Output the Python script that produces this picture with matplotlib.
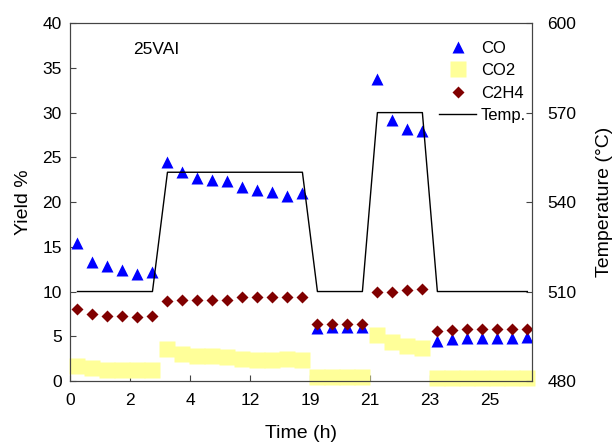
import matplotlib
matplotlib.use('Agg')
import matplotlib.pyplot as plt
from matplotlib.lines import Line2D

plt.rcParams['font.family'] = ['Liberation Sans', 'DejaVu Sans']

# sample positions on the (relabelled) time axis
x = [0.25, 0.75, 1.25, 1.75, 2.25, 2.75,
     3.25, 3.75, 4.25, 4.75, 5.25, 5.75, 6.25, 6.75, 7.25, 7.75,
     8.25, 8.75, 9.25, 9.75,
     10.25, 10.75, 11.25, 11.75,
     12.25, 12.75, 13.25, 13.75, 14.25, 14.75, 15.25]

co = [15.4, 13.3, 12.8, 12.4, 12.0, 12.2,
      24.5, 23.4, 22.7, 22.5, 22.3, 21.7, 21.4, 21.1, 20.7, 21.0,
      5.9, 6.0, 6.0, 6.0,
      33.8, 29.2, 28.2, 27.9,
      4.5, 4.7, 4.8, 4.85, 4.85, 4.85, 4.95]

co2 = [1.7, 1.4, 1.25, 1.25, 1.25, 1.25,
       3.55, 3.0, 2.8, 2.75, 2.65, 2.45, 2.35, 2.3, 2.45, 2.3,
       0.45, 0.45, 0.45, 0.45,
       5.1, 4.4, 3.95, 3.65,
       0.3, 0.3, 0.3, 0.3, 0.3, 0.3, 0.3]

c2h4 = [8.0, 7.5, 7.25, 7.25, 7.1, 7.25,
        8.95, 9.1, 9.1, 9.05, 9.05, 9.35, 9.4, 9.4, 9.4, 9.4,
        6.35, 6.35, 6.35, 6.35,
        9.9, 9.9, 10.15, 10.25,
        5.6, 5.75, 5.85, 5.85, 5.85, 5.85, 5.85]

t_x = [0.25, 2.75, 3.25, 7.75, 8.25, 9.75, 10.25, 11.75, 12.25, 15.25]
temp = [510, 510, 550, 550, 510, 510, 570, 570, 510, 510]

tick_pos = [0, 2, 4, 6, 8, 10, 12, 14]
tick_lab = ['0', '2', '4', '12', '19', '21', '23', '25']

fig = plt.figure(figsize=(6.15, 4.44), dpi=100)
ax = fig.add_axes([0.1138, 0.1419, 0.751, 0.806])

ax.plot(x, co2, 's', color='#FFFF99', ms=11.5, mec='none', clip_on=False, zorder=2)
ax.plot(x, co, '^', color='#0000FF', ms=9, mec='none', zorder=3)
ax.plot(x, c2h4, 'D', color='#800000', ms=6.3, mec='none', zorder=4)

ax.set_xlim(0, 15.4)
ax.set_ylim(0, 40)
ax.set_yticks(range(0, 41, 5))
ax.set_xticks(tick_pos)
ax.set_xticklabels(tick_lab)
ax.tick_params(direction='in', labelsize=12.5, length=4, color='#444444')
ax.tick_params(axis='x', pad=9)
ax.tick_params(axis='y', pad=6)
ax.set_xlabel('Time (h)', fontsize=14, labelpad=12)
ax.set_ylabel('Yield %', fontsize=14, labelpad=7)
for s in ax.spines.values():
    s.set_color('#444444')

ax.text(2.1, 36.5, '25VAI', fontsize=12.5)

ax2 = ax.twinx()
ax2.plot(t_x, temp, '-', color='black', lw=1)
ax2.set_ylim(480, 600)
ax2.set_yticks([480, 510, 540, 570, 600])
ax2.tick_params(direction='in', labelsize=12.5, length=4, color='#444444', pad=11)
ax2.set_ylabel('Temperature (°C)', fontsize=14, labelpad=14)
for s in ax2.spines.values():
    s.set_color('#444444')

handles = [
    Line2D([], [], ls='none', marker='^', color='#0000FF', ms=9, mec='none'),
    Line2D([], [], ls='none', marker='s', color='#FFFF99', ms=11.5, mec='none'),
    Line2D([], [], ls='none', marker='D', color='#800000', ms=6.3, mec='none'),
    Line2D([], [], color='black', lw=1),
]
ax2.legend(handles, ['CO', 'CO2', 'C2H4', 'Temp.'], loc='upper left',
           bbox_to_anchor=(0.785, 0.97), frameon=False, fontsize=12,
           handlelength=2.2, handletextpad=0.3, labelspacing=0.45,
           borderaxespad=0)

fig.savefig('out.png', dpi=100)
